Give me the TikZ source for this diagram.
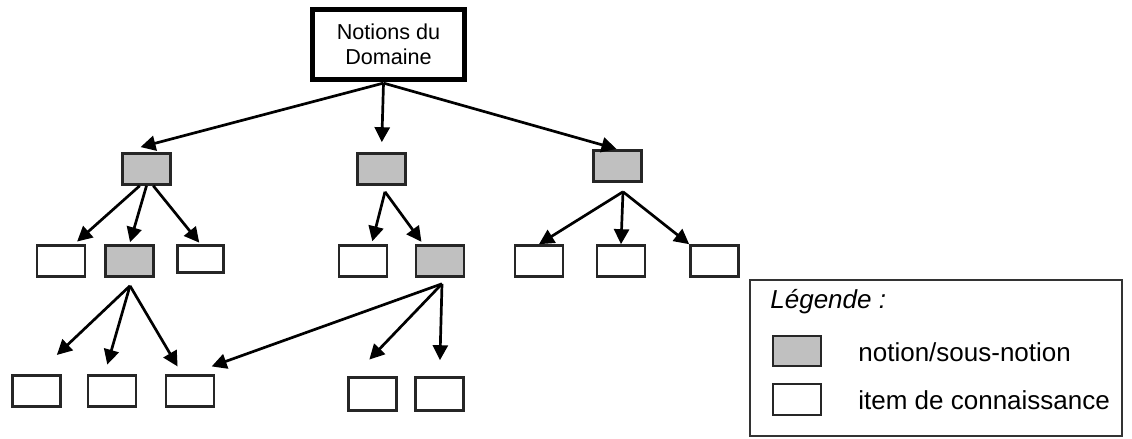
\documentclass[tikz,border=0pt]{standalone}
\usepackage{fontspec}
\setmainfont{Liberation Sans}
\usepackage{xcolor}
\usepackage{tikz}
\usetikzlibrary{arrows.meta,calc}

\definecolor{notiongray}{RGB}{192,192,192}
\tikzset{
  box/.style={draw=black!85, line width=1.3pt, inner sep=0pt, minimum width=24pt, minimum height=15.5pt},
  notion/.style={box, fill=notiongray},
  item/.style={box, fill=white},
  arr/.style={line width=1.35pt, -{Triangle[length=7.5pt,width=7.5pt]}},
  legtext/.style={anchor=west, inner sep=0pt, font=\fontsize{13}{15}\selectfont}
}

\begin{document}
\begin{tikzpicture}[x=0.5pt,y=-0.5pt]
        \useasboundingbox (0,0) rectangle (1132,439);

        \node[draw, line width=2.6pt, inner sep=0pt, minimum width=76pt, minimum height=35pt,
              align=center, font=\fontsize{10.8}{12.5}\selectfont] (root) at (388.5,44.5) {Notions du\\Domaine};

        \node[notion] (A) at (146.5,169) {};
        \node[notion] (B) at (381.5,169) {};
        \node[notion] (C) at (617.5,166) {};

        \node[item] (A1) at (61,261) {};
        \node[notion] (A2) at (129.5,261) {};
        \node[item, minimum width=23pt, minimum height=13.5pt] (A3) at (200.5,259) {};
        \node[item] (B1) at (363,261) {};
        \node[notion] (B2) at (440,261) {};
        \node[item] (C1) at (539,261) {};
        \node[item] (C2) at (621,261) {};
        \node[item] (C3) at (714.5,261) {};

        \node[item] (D1) at (36.5,391) {};
        \node[item] (D2) at (112,391) {};
        \node[item] (D3) at (190,391) {};
        \node[item, minimum height=16.5pt] (E1) at (372.5,394) {};
        \node[item, minimum height=16.5pt] (E2) at (439.5,394) {};

        \coordinate (rootf) at ($(root.south)+(-5,1)$);
        \coordinate (Bf) at ($(B.south)+(3.5,6)$);
        \coordinate (Cf) at ($(C.south)+(5.5,9)$);
        \coordinate (A2f) at ($(A2.south)+(0.5,8)$);
        \coordinate (B2f) at ($(B2.south)+(2,6)$);

        \draw[arr, shorten >=10pt] (rootf) -- (A.north west);
        \draw[arr, shorten >=5pt] (rootf) -- (B.north);
        \draw[arr, shorten >=0.5pt] (rootf) -- (C.north);

        \draw[arr, shorten >=2pt] (A.-112) -- (A1.52);
        \draw[arr, shorten >=1pt] (A.south) -- (A2.north);
        \draw[arr, shorten >=1pt] (A.-68) -- (A3.north);

        \draw[arr, shorten >=1.5pt] (Bf) -- (B1.63);
        \draw[arr, shorten >=1.5pt] (Bf) -- (B2.135);

        \draw[arr] (Cf) -- (C1.north);
        \draw[arr] (Cf) -- (C2.north);
        \draw[arr] (Cf) -- (C3.north west);

        \draw[arr, shorten >=14pt] (A2f) -- (D1.north);
        \draw[arr, shorten >=5pt] (A2f) -- (D2.114);
        \draw[arr, shorten >=4.5pt] (A2f) -- (D3.115);

        \draw[arr, shorten >=11.5pt] (B2f) -- (D3.north);
        \draw[arr, shorten >=11.5pt] (B2f) -- (E1.137);
        \draw[arr, shorten >=8pt] (B2f) -- (E2.north);

        % legend
        \node[draw=black!80, line width=1.1pt, minimum width=186pt, minimum height=78pt] (legend) at (936,358) {};
        \node[legtext, font=\itshape\fontsize{13}{15}\selectfont] (legtitle) at (770,302) {Légende :};
        \node[notion, minimum height=15pt] (legnotion) at (797,351) {};
        \node[item, minimum height=15.5pt] (legitem) at (797,399.5) {};
        \node[legtext] (lnotion) at (858,352) {notion/sous-notion};
        \node[legtext] (litem) at (858,400) {item de connaissance};
    \end{tikzpicture}
\end{document}
